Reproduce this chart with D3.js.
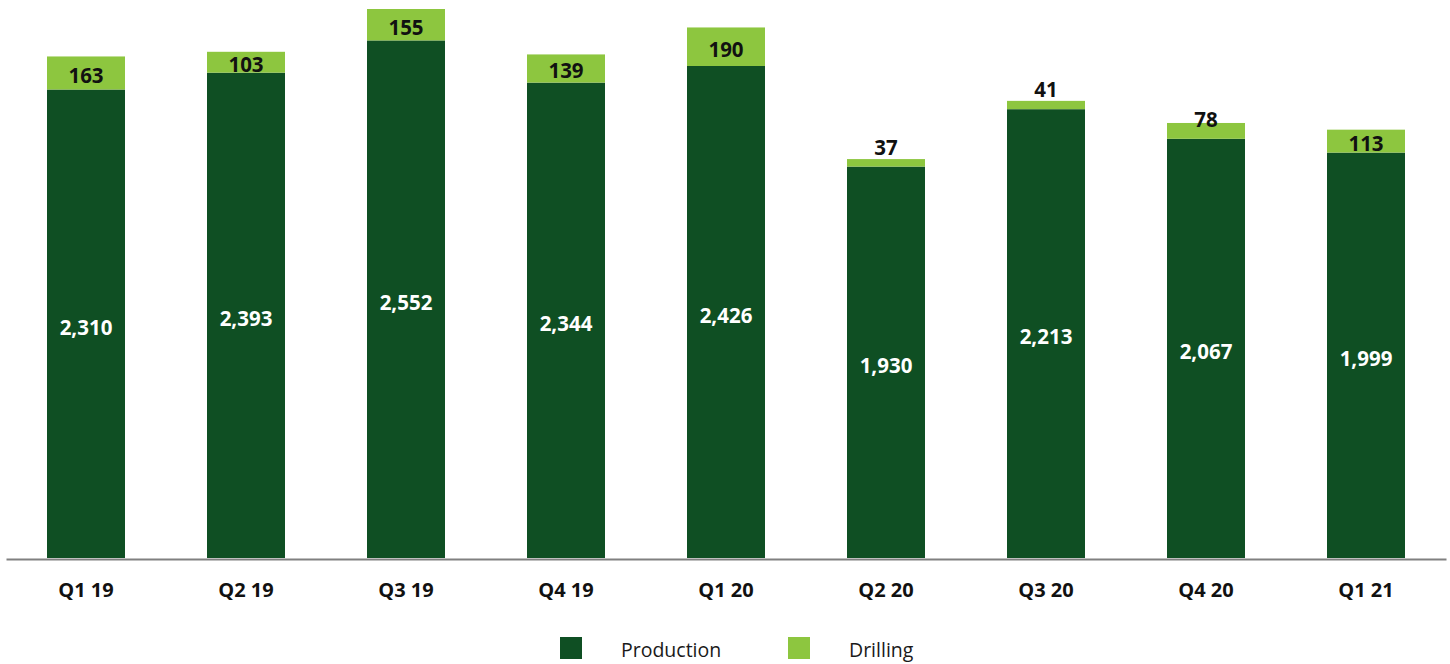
<!DOCTYPE html>
<html>
<head>
<meta charset="utf-8">
<script src="https://cdn.jsdelivr.net/npm/d3@7/dist/d3.min.js"></script>
<style>
  html, body { margin: 0; padding: 0; background: #ffffff; }
  svg { display: block; font-family: "Open Sans", "Noto Sans", sans-serif; }
</style>
</head>
<body>
<svg id="chart" width="1450" height="664"></svg>
<script>
// Quarterly revenue split, production vs drilling
const quarters   = ["Q1 19", "Q2 19", "Q3 19", "Q4 19", "Q1 20", "Q2 20", "Q3 20", "Q4 20", "Q1 21"];
const production = [2310, 2393, 2552, 2344, 2426, 1930, 2213, 2067, 1999];
const drilling   = [163, 103, 155, 139, 190, 37, 41, 78, 113];
const seriesNames = ["Production", "Drilling"];

const colors = { Production: "#0f4f23", Drilling: "#8dc63f" };

const svg = d3.select("#chart");
const baseY = 558;
const topY = 9;

const rows = quarters.map((q, i) => ({ q, Production: production[i], Drilling: drilling[i] }));
const stacked = d3.stack().keys(seriesNames)(rows);

const x = d3.scaleBand()
  .domain(quarters)
  .range([6, 1446])
  .paddingInner(0.5125)
  .paddingOuter(0.25625);

const y = d3.scaleLinear()
  .domain([0, d3.max(rows, d => d.Production + d.Drilling)])
  .range([baseY, topY]);

// stacked bars
const layers = svg.append("g").selectAll("g")
  .data(stacked)
  .join("g")
  .attr("fill", s => colors[s.key]);

layers.selectAll("rect")
  .data(s => s)
  .join("rect")
  .attr("x", d => x(d.data.q))
  .attr("width", x.bandwidth())
  .attr("y", d => y(d[1]))
  .attr("height", d => y(d[0]) - y(d[1]));

// production values, white, inside the dark segment
const fmt = d3.format(",");
svg.append("g").selectAll("text")
  .data(stacked[0])
  .join("text")
  .attr("x", d => x(d.data.q) + x.bandwidth() / 2)
  .attr("y", d => (y(d[0]) + y(d[1])) / 2 + 3.5)
  .attr("dy", "0.36em")
  .attr("text-anchor", "middle")
  .attr("fill", "#ffffff")
  .attr("font-weight", 700)
  .attr("font-size", 20.5)
  .text(d => fmt(d.data.Production));

// drilling values, black; thin segments get the label above the bar
svg.append("g").selectAll("text")
  .data(stacked[1])
  .join("text")
  .attr("x", d => x(d.data.q) + x.bandwidth() / 2)
  .attr("y", d => {
    const top = y(d[1]);
    const h = y(d[0]) - y(d[1]);
    if (h < 12) return top - 4;
    if (h < 20) return top + 4;
    return (top + y(d[0])) / 2 + 2.5 + 7.3;
  })
  .attr("text-anchor", "middle")
  .attr("fill", "#111111")
  .attr("font-weight", 700)
  .attr("font-size", 20.5)
  .text(d => fmt(d.data.Drilling));

// category axis
const axis = svg.append("g")
  .attr("transform", `translate(0,${baseY + 1})`)
  .call(d3.axisBottom(x).tickSize(0).tickSizeOuter(0).tickPadding(24));

axis.select(".domain")
  .attr("stroke", "#808080")
  .attr("stroke-width", 2);

axis.selectAll(".tick text")
  .attr("font-family", "'Open Sans', sans-serif")
  .attr("font-size", 20)
  .attr("font-weight", 700)
  .attr("fill", "#111111");

// legend
const legendItems = [
  { name: "Production", sx: 560, tx: 621 },
  { name: "Drilling",   sx: 788, tx: 849 }
];
const legend = svg.append("g");
legend.selectAll("rect")
  .data(legendItems)
  .join("rect")
  .attr("x", d => d.sx)
  .attr("y", 637)
  .attr("width", 22)
  .attr("height", 22)
  .attr("fill", d => colors[d.name]);
legend.selectAll("text")
  .data(legendItems)
  .join("text")
  .attr("x", d => d.tx)
  .attr("y", 657)
  .attr("font-size", 19.5)
  .attr("fill", "#1a1a1a")
  .text(d => d.name);
</script>
</body>
</html>
